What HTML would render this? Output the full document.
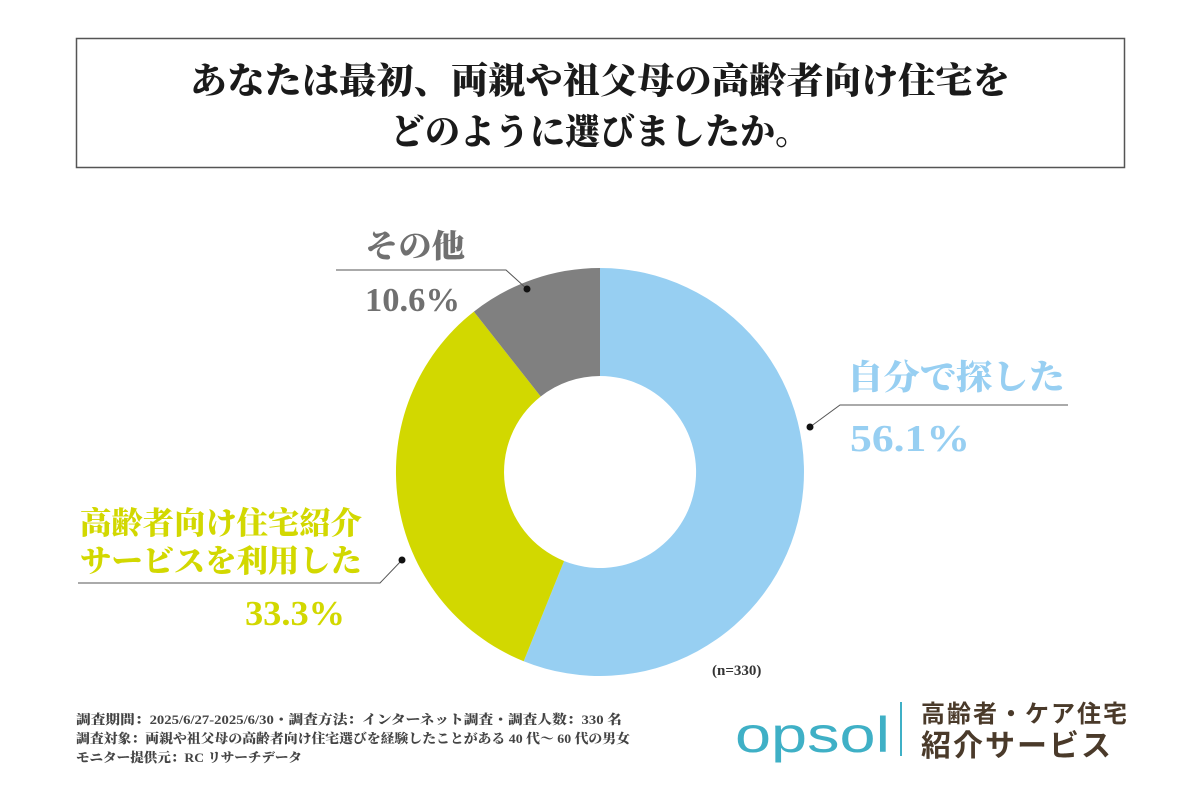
<!DOCTYPE html>
<html><head><meta charset="utf-8"><style>
html,body{margin:0;padding:0;background:#fff;}
body{width:1200px;height:800px;position:relative;overflow:hidden;}
.s{font-family:"Liberation Serif","Noto Serif CJK SC",serif;font-weight:900;}
.g{font-family:"Liberation Sans","Noto Sans CJK JP",sans-serif;}
</style></head><body>
<svg width="1200" height="800" viewBox="0 0 1200 800" style="position:absolute;left:0;top:0">
<rect x="76.5" y="38.5" width="1048" height="129" fill="#fff" stroke="#555" stroke-width="1.5"/>
<text class="s" x="600" y="93" font-size="36" text-anchor="middle" fill="#1a1a1a" textLength="820" lengthAdjust="spacingAndGlyphs">あなたは最初、両親や祖父母の高齢者向け住宅を</text>
<text class="s" x="600" y="144" font-size="36" text-anchor="middle" fill="#1a1a1a" textLength="420" lengthAdjust="spacingAndGlyphs">どのように選びましたか。</text>
<path d="M600 268 A204 204 0 1 1 523.7 661.2 L564.1 561 A96 96 0 1 0 600 376 Z" fill="#97cff2"/>
<path d="M523.7 661.2 A204 204 0 0 1 473.9 311.6 L540.7 396.5 A96 96 0 0 0 564.1 561 Z" fill="#d2d800"/>
<path d="M473.9 311.6 A204 204 0 0 1 600 268 L600 376 A96 96 0 0 0 540.7 396.5 Z" fill="#808080"/>
<g fill="none" stroke="#555" stroke-width="1">
<polyline points="336,270 506,270 527,289"/>
<polyline points="1068,405 840,405 810,427"/>
<polyline points="78,583 380,583 402,560"/>
</g>
<g fill="#111"><circle cx="527" cy="289" r="3.5"/><circle cx="810" cy="427" r="3.5"/><circle cx="402" cy="560" r="3.5"/></g>
<text class="s" x="365" y="257" font-size="32" fill="#707070" textLength="100" lengthAdjust="spacingAndGlyphs">その他</text>
<text class="s" x="365" y="311" font-size="34" fill="#707070" textLength="95" lengthAdjust="spacingAndGlyphs">10.6%</text>
<text class="s" x="847" y="389" font-size="34" fill="#97cff2" textLength="218" lengthAdjust="spacingAndGlyphs">自分で探した</text>
<text class="s" x="850" y="451" font-size="38" fill="#97cff2" textLength="120" lengthAdjust="spacingAndGlyphs">56.1%</text>
<text class="s" x="80" y="534" font-size="31" fill="#d2d800" textLength="282" lengthAdjust="spacingAndGlyphs">高齢者向け住宅紹介</text>
<text class="s" x="80" y="572" font-size="31" fill="#d2d800" textLength="282" lengthAdjust="spacingAndGlyphs">サービスを利用した</text>
<text class="s" x="245" y="625" font-size="35" fill="#d2d800" textLength="100" lengthAdjust="spacingAndGlyphs">33.3%</text>
<text class="s" x="712" y="675" font-size="15" font-weight="400" fill="#333">(n=330)</text>
<g class="s" font-size="13" font-weight="700" fill="#444">
<text x="76" y="724" textLength="546" lengthAdjust="spacingAndGlyphs">調査期間：2025/6/27-2025/6/30・調査方法：インターネット調査・調査人数：330 名</text>
<text x="76" y="743" textLength="554" lengthAdjust="spacingAndGlyphs">調査対象：両親や祖父母の高齢者向け住宅選びを経験したことがある 40 代～ 60 代の男女</text>
<text x="76" y="762" textLength="226" lengthAdjust="spacingAndGlyphs">モニター提供元：RC リサーチデータ</text>
</g>
<text class="g" x="735" y="752" font-size="50" fill="#3fb0c6" textLength="155" lengthAdjust="spacingAndGlyphs">opsol</text>
<rect x="900" y="702" width="2" height="54" fill="#3fb0c6"/>
<text class="g" x="921" y="722" font-size="24" font-weight="700" fill="#4a3a2a" letter-spacing="2">高齢者・ケア住宅</text>
<text class="g" x="921" y="756" font-size="30" font-weight="700" fill="#4a3a2a" letter-spacing="2">紹介サービス</text>
</svg>
</body></html>
